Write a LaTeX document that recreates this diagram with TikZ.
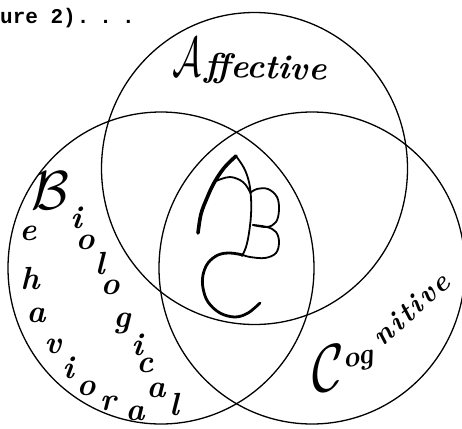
\documentclass[tikz,border=0pt]{standalone}
\usepackage{fontspec}
\usepackage{graphicx}
\newfontfamily\tyfont{Liberation Mono}
\tikzset{
  ring/.style={draw, line width=1.3pt},
  hand/.style={font=\fontsize{32}{32}\selectfont\bfseries\itshape, inner sep=0pt},
  handc/.style={font=\fontsize{29}{29}\selectfont\bfseries\itshape, inner sep=0pt},
  handbig/.style={font=\fontsize{34}{34}\selectfont\bfseries\itshape, inner sep=0pt},
  mono/.style={line width=1.8pt, line cap=round, line join=round},
}
\newcommand{\bigcal}[3]{\scalebox{#1}[#2]{\normalsize$\mathcal{#3}$}}
\begin{document}
\begin{tikzpicture}[x=1pt, y=-1pt]
\useasboundingbox (0,0) rectangle (462,428);
% three circles
\draw[ring] (254.5,168.5) ellipse [x radius=153, y radius=156];
\draw[ring] (161,268) ellipse [x radius=153, y radius=156];
\draw[ring] (312,268) ellipse [x radius=153, y radius=156];
% caption fragment
\node[anchor=base west, inner sep=0pt, font=\tyfont\bfseries\fontsize{21}{21}\selectfont] (cap) at (0,24) {ure 2)\kern1pt.\kern10pt.\kern10pt.};
% Affective
\node[handbig, anchor=base west, rotate=-2] (aff) at (172,75) {\bigcal{3.6}{5.6}{A}\kern4pt ffective};
% B shared
\node[inner sep=0pt] (bB) at (50,191) {\bigcal{5.5}{5.5}{B}};
% Biological
\node[hand] (bi1) at (76,218) {i};
\node[hand] (bo1) at (85,242) {o};
\node[hand] (bl1) at (100,264) {l};
\node[hand] (bo2) at (110,287) {o};
\node[hand] (bg1) at (122,323) {g};
\node[hand] (bi2) at (137,345) {i};
\node[hand] (bc1) at (145,365) {c};
\node[hand] (ba1) at (156,390) {a};
\node[hand] (bl2) at (174,405) {l};
% Behavioral
\node[hand] (he1) at (28,233) {e};
\node[hand] (hh1) at (30,279) {h};
\node[hand] (ha1) at (36,315) {a};
\node[hand] (hv1) at (53,346) {v};
\node[hand] (hi1) at (68,368) {i};
\node[hand] (ho1) at (86,388) {o};
\node[hand] (hr1) at (108,403) {r};
\node[hand] (ha2) at (135,413) {a};
% Cognitive
\node[inner sep=0pt] (cC) at (328,368) {\bigcal{5.4}{6.8}{C}};
\node[handc, rotate=12] (cog) at (359,362) {og};
\node[handc, rotate=42] (cnit) at (411,309) {n\kern2pt i\kern3pt t\kern2pt i\kern3pt v\kern2pt e};
% ABC monogram
\draw[mono, line width=3.6pt] plot[smooth, tension=0.6] coordinates {(198,233) (201,214) (207,198) (214,183) (224,168) (236,156)};
\draw[mono] plot[smooth, tension=0.6] coordinates {(236,156) (244,168) (249,182) (251,198) (251,215) (249,233) (246,247) (242,256)};
\draw[mono] plot[smooth, tension=0.6] coordinates {(216,181) (230,177) (243,182) (250,192)};
\draw[mono] plot[smooth, tension=0.6] coordinates {(250,193) (257,189) (268,189) (277,197) (279,210) (276,222) (267,227) (253,225)};
\draw[mono] plot[smooth, tension=0.6] coordinates {(253,225) (267,227) (276,232) (279,242) (276,253) (265,258) (250,257) (243,255)};
\draw[mono, line width=2.8pt] plot[smooth, tension=0.6] coordinates {(243,255) (230,253) (218,255) (208,263) (203,275) (203,288) (208,302) (220,313) (235,317) (248,313) (260,303)};
\end{tikzpicture}
\end{document}
